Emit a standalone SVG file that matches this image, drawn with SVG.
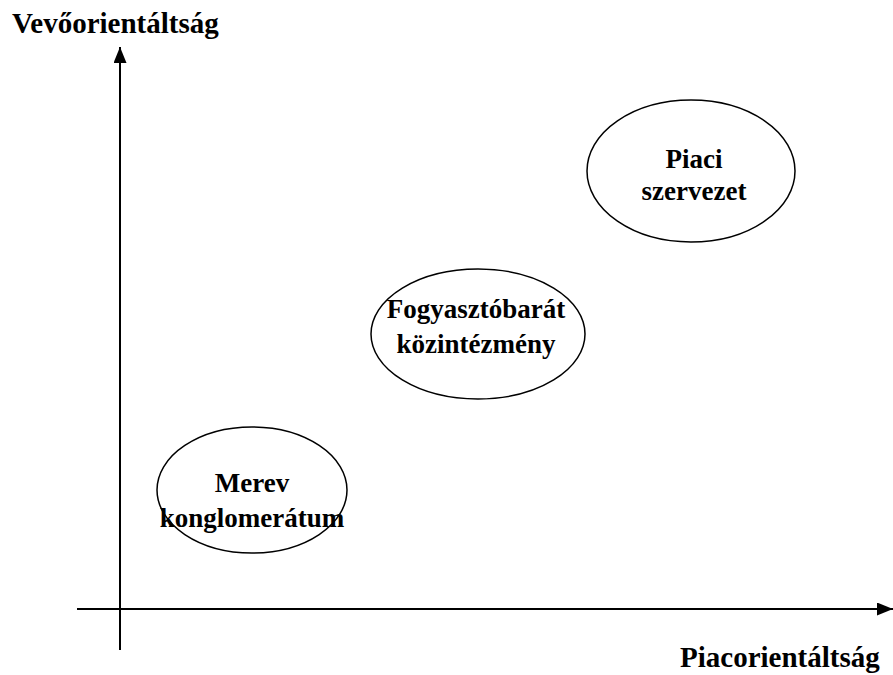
<svg xmlns="http://www.w3.org/2000/svg" width="893" height="675" viewBox="0 0 893 675">
<style>
text{font-family:'Liberation Serif','Times New Roman',Tinos,'DejaVu Serif',serif;font-weight:bold;fill:#000}
.lab{font-size:27px;text-anchor:middle}
.ax{font-size:29px}
.node ellipse{fill:#fff;stroke:#000;stroke-width:1.5}
.axis{stroke:#000;stroke-width:2;fill:none}
</style>
<defs>
<marker id="ah" markerUnits="userSpaceOnUse" markerWidth="18" markerHeight="14" refX="16" refY="6.5" orient="auto">
<path d="M0,0 L16,6.5 L0,13 Z" fill="#000"/>
</marker>
</defs>
<g id="connectors">
<line class="axis" x1="120" y1="650" x2="120" y2="47" marker-end="url(#ah)"/>
<line class="axis" x1="77" y1="609" x2="893" y2="609" marker-end="url(#ah)"/>
</g>
<text class="ax" x="12" y="33" font-family="Liberation Serif, serif">Vevőorientáltság</text>
<text class="ax" x="680" y="667" font-family="Liberation Serif, serif">Piacorientáltság</text>
<g id="merev" class="node">
<ellipse cx="252" cy="490" rx="95" ry="63"/>
<text class="lab" x="252" y="492">Merev</text>
<text class="lab" x="252" y="527">konglomerátum</text>
</g>
<g id="fogyaszto" class="node">
<ellipse cx="478" cy="334" rx="107" ry="65"/>
<text class="lab" x="476" y="318">Fogyasztóbarát</text>
<text class="lab" x="476" y="353">közintézmény</text>
</g>
<g id="piaci" class="node">
<ellipse cx="691" cy="171" rx="104" ry="71"/>
<text class="lab" x="694" y="168">Piaci</text>
<text class="lab" x="694" y="200">szervezet</text>
</g>
</svg>
